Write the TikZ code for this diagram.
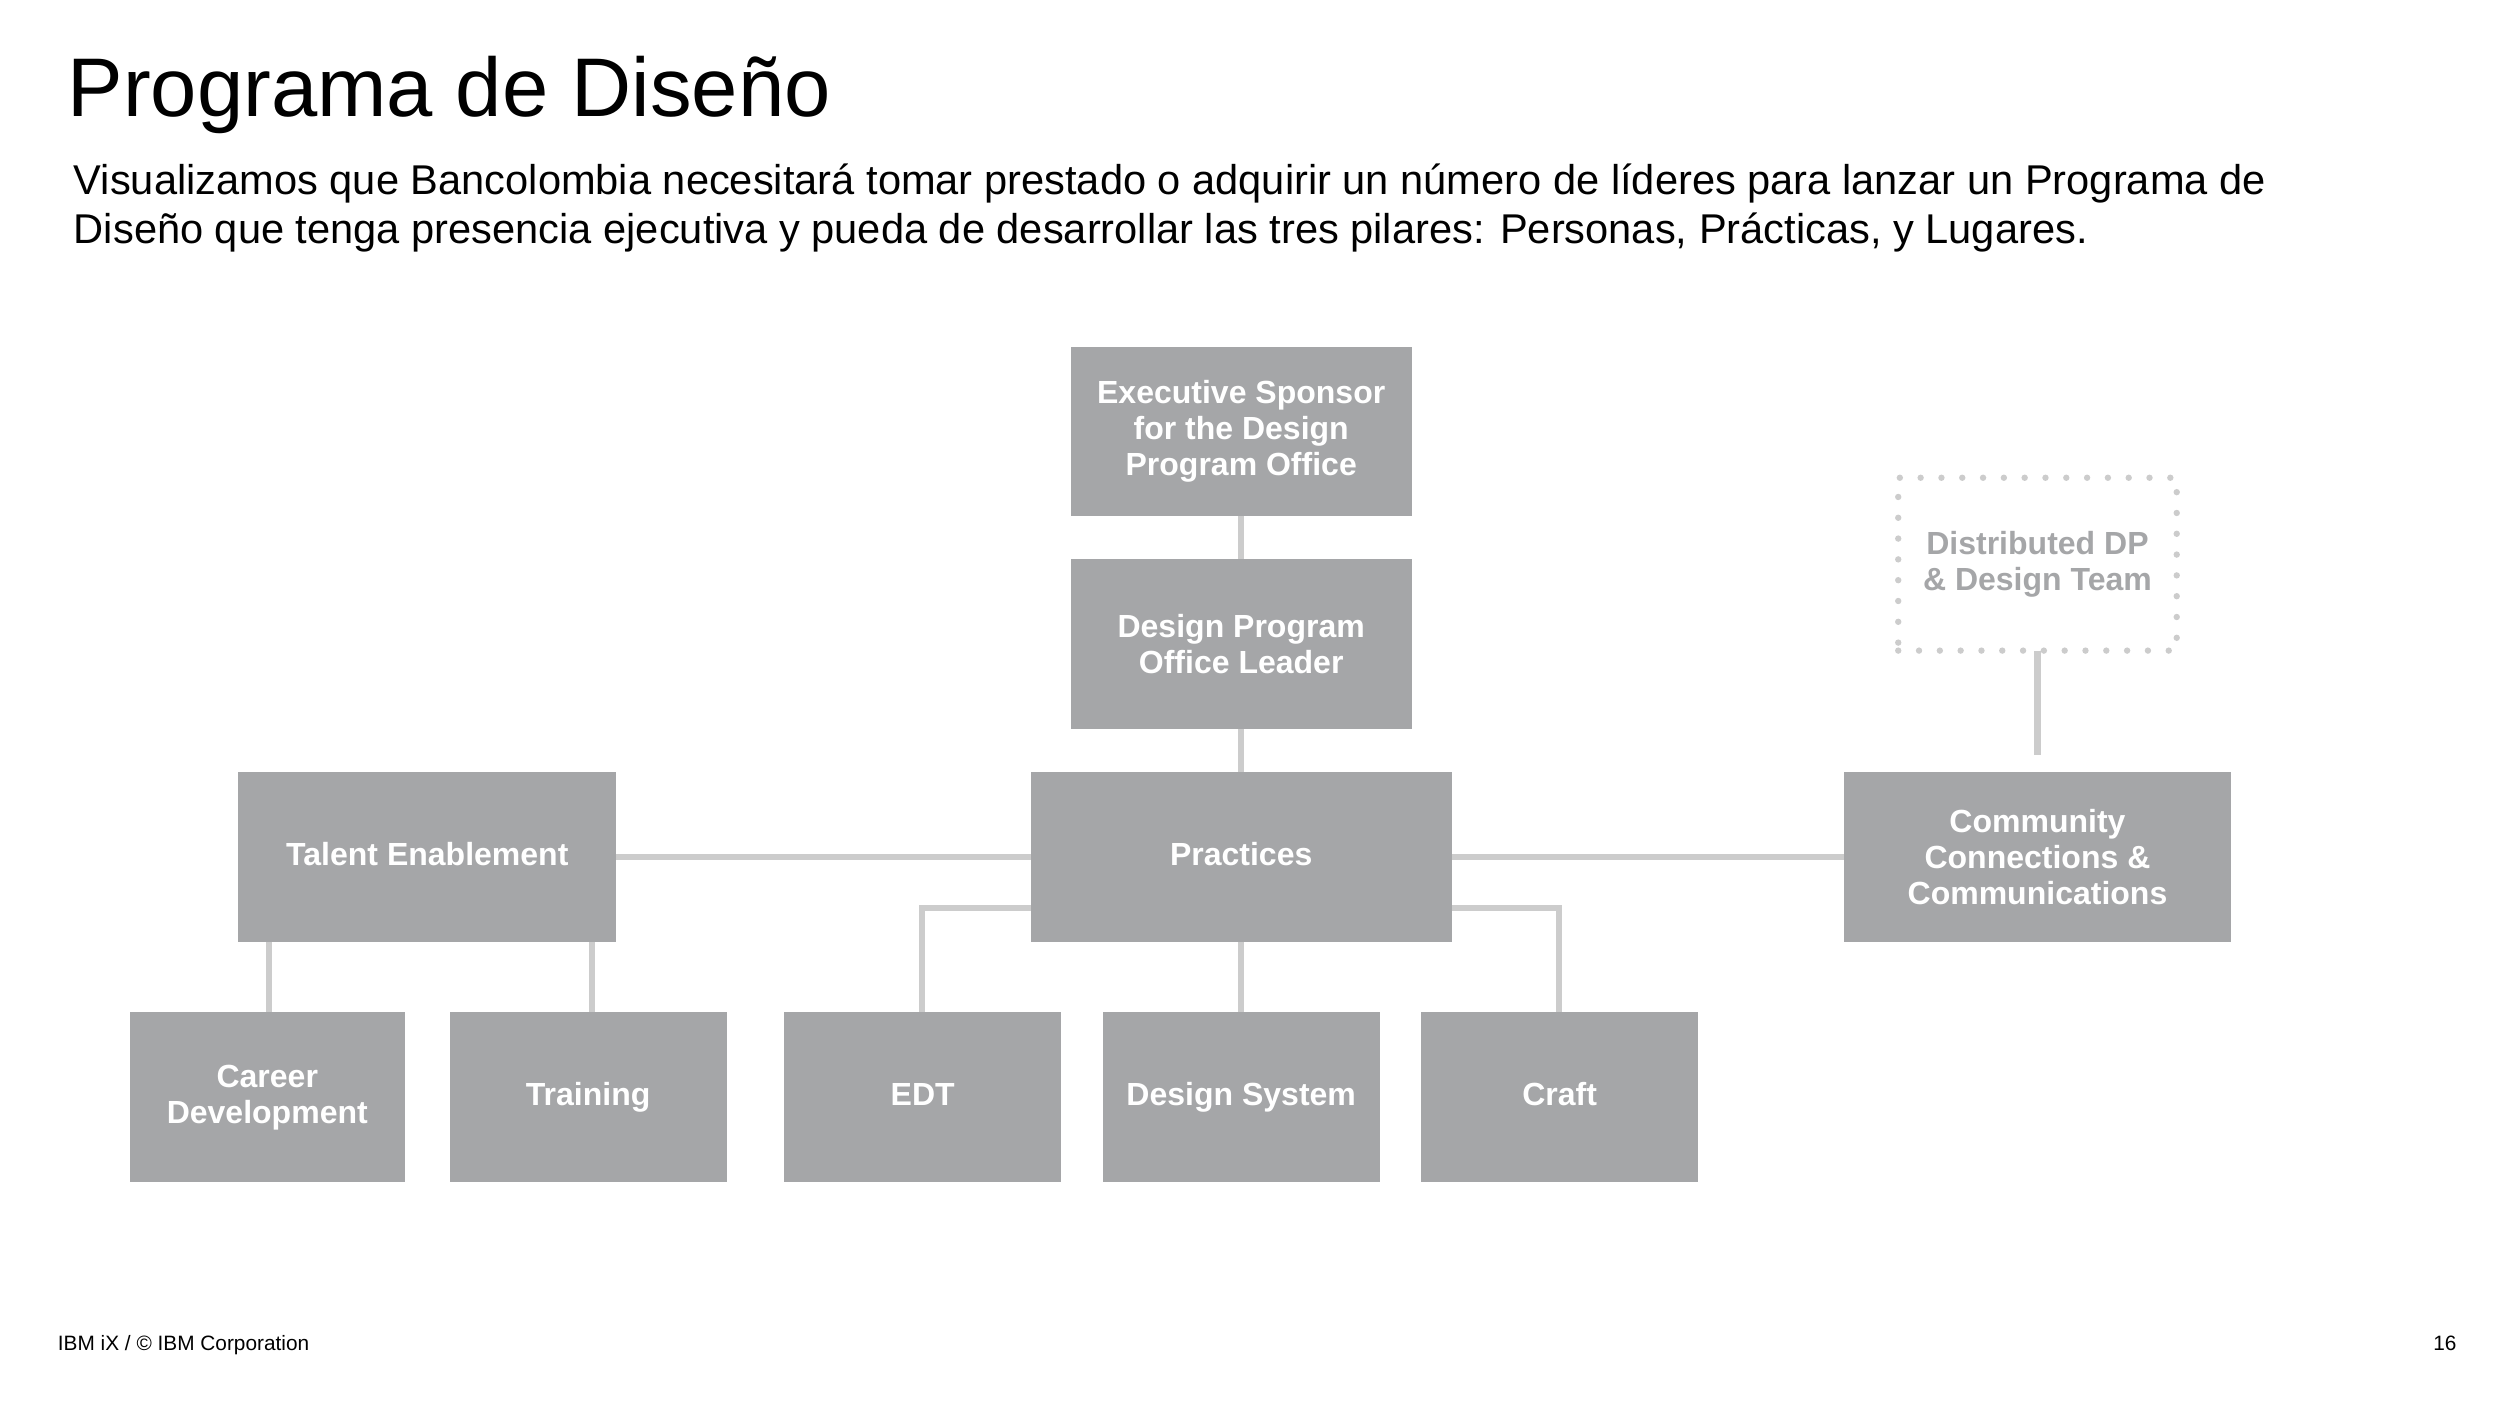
\documentclass[tikz,border=0pt]{standalone}
\usepackage{fontspec}
\setmainfont{Liberation Sans}
\begin{document}
\begin{tikzpicture}[x=1pt,y=-1pt,
 box/.style={fill=boxc,draw=none,inner sep=0pt,align=center,text=white,font=\fontsize{20}{22.5}\selectfont\bfseries},
 one/.style={text height=14.5pt,text depth=4pt},
 ln/.style={draw=linec,line width=4pt}]
\definecolor{boxc}{HTML}{A5A6A8}
\definecolor{linec}{HTML}{CCCCCC}
\useasboundingbox (0,0) rectangle (1562,877);
\node[anchor=base west,inner sep=0pt,font=\fontsize{52}{60}\selectfont] (title) at (42,73) {Programa de Diseño};
\node[anchor=north west,align=left,inner sep=0pt,font=\fontsize{26}{31}\selectfont] (sub) at (46,102) {Visualizamos que Bancolombia necesitará tomar prestado o adquirir un número de líderes para lanzar un Programa de\\Diseño que tenga presencia ejecutiva y pueda de desarrollar las tres pilares: Personas, Prácticas, y Lugares.};
\node[anchor=base west,inner sep=0pt,font=\fontsize{13}{15}\selectfont] (foot) at (36,844) {IBM iX / © IBM Corporation};
\node[anchor=base east,inner sep=0pt,font=\fontsize{13}{15}\selectfont] (pg) at (1535,844) {16};
\begin{scope}[xshift=-3pt,yshift=1.5pt]
\coordinate (d1) at (1276,408); \coordinate (d2) at (1276,473);
\draw[ln] (d1)--(d2);
\draw[ln] (778.5,320)--(778.5,360);
\draw[ln] (778.5,450)--(778.5,490);
\draw[ln] (380,537)--(1160,537);
\draw[ln] (778.5,585)--(778.5,640);
\draw[ln] (171,585)--(171,640);
\draw[ln] (373,585)--(373,640);
\draw[ln] (650,569)--(579,569)--(579,640);
\draw[ln] (905,569)--(977,569)--(977,640);
\node[box,minimum width=213,minimum height=106] (exec) at (778.5,271) {Executive Sponsor\\for the Design\\Program Office};
\node[box,minimum width=213,minimum height=106] (dpol) at (778.5,404) {Design Program\\Office Leader};
\node[box,one,minimum width=263,minimum height=106] (prac) at (778.5,537) {Practices};
\node[box,one,minimum width=236,minimum height=106] (tal) at (270,537) {Talent Enablement};
\node[box,minimum width=242,minimum height=106] (com) at (1276,537) {Community\\Connections \&\\Communications};
\node[box,fill=none,draw=linec,line width=4pt,dash pattern=on 0pt off 13pt,line cap=round,text=boxc,minimum width=174,minimum height=108] (dist) at (1276,354) {Distributed DP\\\& Design Team};
\node[box,minimum width=172,minimum height=106] (car) at (170,687) {Career\\Development};
\node[box,one,minimum width=173,minimum height=106] (tra) at (370.5,687) {Training};
\node[box,one,minimum width=173,minimum height=106] (edt) at (579.5,687) {EDT};
\node[box,one,minimum width=173,minimum height=106] (ds) at (778.5,687) {Design System};
\node[box,one,minimum width=173,minimum height=106] (cr) at (977.5,687) {Craft};
\end{scope}
\end{tikzpicture}
\end{document}
